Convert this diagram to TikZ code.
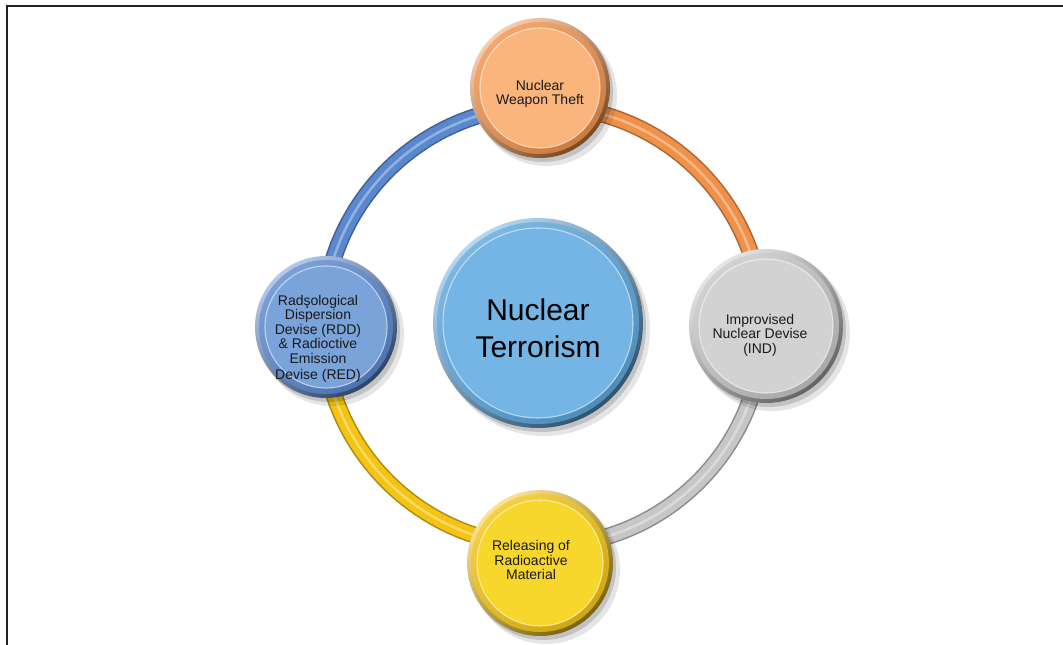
\documentclass[tikz,border=0pt]{standalone}
\usepackage{fontspec}
\setmainfont{Liberation Sans}
\usetikzlibrary{calc}
\definecolor{cOrange}{HTML}{F0914A}
\definecolor{cOrangeFace}{HTML}{F9B57C}
\definecolor{cBlue}{HTML}{5A88CF}
\definecolor{cBlueFace}{HTML}{7AA3DA}
\definecolor{cGrey}{HTML}{C6C6C6}
\definecolor{cGreyFace}{HTML}{D2D2D2}
\definecolor{cYellow}{HTML}{F3C414}
\definecolor{cYellowFace}{HTML}{F8D72C}
\definecolor{cSky}{HTML}{5CA6DC}
\definecolor{cSkyFace}{HTML}{74B5E5}
\definecolor{frameC}{HTML}{222222}
\tikzset{
  tubeedge/.style={line width=17, draw=#1!70!black},
  tubebody/.style={line width=14, draw=#1},
  tubeshine/.style={line width=2.5, draw=#1!65!white},
  label/.style={circle, align=center, text=black!90, font=\fontsize{14}{14.5}\selectfont},
  biglabel/.style={circle, align=center, text=black, font=\fontsize{30}{37}\selectfont},
}
\newcommand\myBead[6]{%
  \fill[black, opacity=0.10] ($(#2)+(6,-7)$) circle[radius=#3+1];
  \fill[black, opacity=0.15] ($(#2)+(3,-4)$) circle[radius=#3];
  \shade[top color=#4!45!white, bottom color=#4!50!black, shading angle=40] (#2) circle[radius=#3];
  \shade[top color=#4!80!white, bottom color=#4!85!black, shading angle=40] (#2) circle[radius=#3-4];
  \fill[#5] (#2) circle[radius=#3-10];
  \draw[white, opacity=0.55, line width=1.1] (#2) circle[radius=#3-10];
}
\newcommand\myTube[4]{%
  \draw[tubeedge=#1] (#2) arc[start angle=#3, end angle=#4, radius=220];
  \draw[tubebody=#1] (#2) arc[start angle=#3, end angle=#4, radius=220];
  \draw[tubeshine=#1] (#2) arc[start angle=#3, end angle=#4, radius=220];
}
\begin{document}
\begin{tikzpicture}[x=1pt, y=1pt]
\useasboundingbox (0,0) rectangle (1063,645);
\fill[white] (0,0) rectangle (1063,645);
\draw[frameC, line width=2] (7,0) -- (7,639) -- (1063,639);
% ring
\coordinate (ring) at (543,319);
\coordinate (rR) at ($(ring)+(0:220)$);
\coordinate (rT) at ($(ring)+(90:220)$);
\coordinate (rL) at ($(ring)+(180:220)$);
\coordinate (rB) at ($(ring)+(270:220)$);
\myTube{cOrange}{rR}{0}{90}
\myTube{cBlue}{rT}{90}{180}
\myTube{cYellow}{rL}{180}{270}
\myTube{cGrey}{rB}{270}{360}
% positions
\coordinate (pC) at (538,322);
\coordinate (pT) at (540,557);
\coordinate (pL) at (326,318);
\coordinate (pR) at (766,319);
\coordinate (pB) at (540,82);
\myBead{center}{pC}{105}{cSky}{cSkyFace}{}
\myBead{top}{pT}{70}{cOrange}{cOrangeFace}{}
\myBead{left}{pL}{71}{cBlue}{cBlueFace}{}
\myBead{right}{pR}{77}{cGrey}{cGreyFace}{}
\myBead{bottom}{pB}{73}{cYellow}{cYellowFace}{}
\node[biglabel] (nCenter) at ($(pC)+(0,-5)$) {Nuclear\\Terrorism};
\node[label] (nTop) at ($(pT)+(0,-6)$) {Nuclear\\Weapon Theft};
\node[label] (nLeft) at ($(pL)+(-8,-12)$) {Radşological\\Dispersion\\Devise (RDD)\\\& Radioctive\\Emission\\[2pt]Devise (RED)};
\node[label] (nRight) at ($(pR)+(-6,-9)$) {Improvised\\Nuclear Devise\\(IND)};
\node[label] (nBottom) at ($(pB)+(-9,3)$) {Releasing of\\Radioactive\\Material};
\end{tikzpicture}
\end{document}
